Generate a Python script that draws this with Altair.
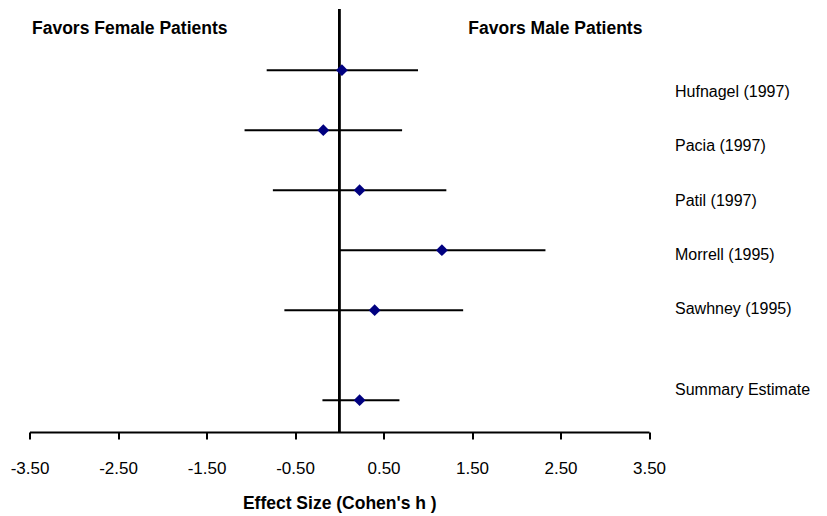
import altair as alt
import pandas as pd

# ---- data ----
studies = ["Hufnagel (1997)", "Pacia (1997)", "Patil (1997)",
           "Morrell (1995)", "Sawhney (1995)", "Summary Estimate"]
rows = [1, 2, 3, 4, 5, 6.5]
effect = [0.03, -0.18, 0.23, 1.16, 0.40, 0.23]
lower = [-0.82, -1.07, -0.75, 0.00, -0.62, -0.19]
upper = [0.89, 0.71, 1.21, 2.33, 1.40, 0.68]
tick_values = [-3.5, -2.5, -1.5, -0.5, 0.5, 1.5, 2.5, 3.5]
header_left = "Favors Female Patients"
header_right = "Favors Male Patients"

df = pd.DataFrame({"study": studies, "row": rows, "effect": effect,
                   "lower": lower, "upper": upper})

FONT = "Liberation Sans Narrow, Arial Narrow, Liberation Sans, Arial, sans-serif"

xscale = alt.Scale(domain=[-3.5, 3.5], nice=False, zero=False)
yscale = alt.Scale(domain=[-0.02, 7.03], reverse=True, nice=False, zero=False)
lab_scale = alt.Scale(domain=[-0.53, 7.267], reverse=True, nice=False, zero=False)

xaxis = alt.Axis(values=tick_values, grid=False,
                 labelExpr="replace(format(datum.value, '.2f'), '\u2212', '-')",
                 domainColor="black", domainWidth=2, tickColor="black",
                 tickWidth=2, tickSize=7, labelFont=FONT, labelFontSize=17,
                 labelColor="black", labelPadding=21.5, labelFlush=False,
                 title="Effect Size (Cohen's h )", titleFont=FONT,
                 titleFontSize=17.5, titleFontWeight="bold", titleColor="black",
                 titleBaseline="alphabetic", titleY=76)

base = alt.Chart(df)

bars = base.mark_rule(color="black", strokeWidth=2).encode(
    x=alt.X("lower:Q", scale=xscale, axis=xaxis),
    x2="upper:Q",
    y=alt.Y("row:Q", scale=yscale, axis=None),
)

zero_line = alt.Chart(df).mark_rule(color="black", strokeWidth=2).encode(
    x=alt.datum(0, scale=xscale)
)

points = base.mark_point(shape="diamond", filled=True, color="#000080",
                         size=140, opacity=1).encode(
    x=alt.X("effect:Q", scale=xscale),
    y=alt.Y("row:Q", scale=yscale, axis=None),
)

labels = base.mark_text(align="left", baseline="middle", font=FONT,
                        fontSize=16, color="black", clip=False).encode(
    x=alt.value(645.5),
    y=alt.Y("row:Q", scale=lab_scale, axis=None),
    text="study:N",
)

hdr_l = alt.Chart(pd.DataFrame({"t": [header_left]})).mark_text(
    align="left", baseline="alphabetic", font=FONT, fontSize=17.5,
    fontWeight="bold", color="black").encode(
    x=alt.value(2.5), y=alt.value(25), text="t:N")
hdr_r = alt.Chart(pd.DataFrame({"t": [header_right]})).mark_text(
    align="left", baseline="alphabetic", font=FONT, fontSize=17.5,
    fontWeight="bold", color="black").encode(
    x=alt.value(438.8), y=alt.value(25), text="t:N")

chart = alt.layer(zero_line, bars, points, labels, hdr_l, hdr_r).resolve_scale(
    y="independent"
).properties(
    width=619.5, height=423,
    padding={"left": 21.5, "top": 1, "right": 170, "bottom": 84},
    autosize="none",
).configure_view(stroke=None)

chart.save("out.html", embed_options={"renderer": "svg", "actions": False})
